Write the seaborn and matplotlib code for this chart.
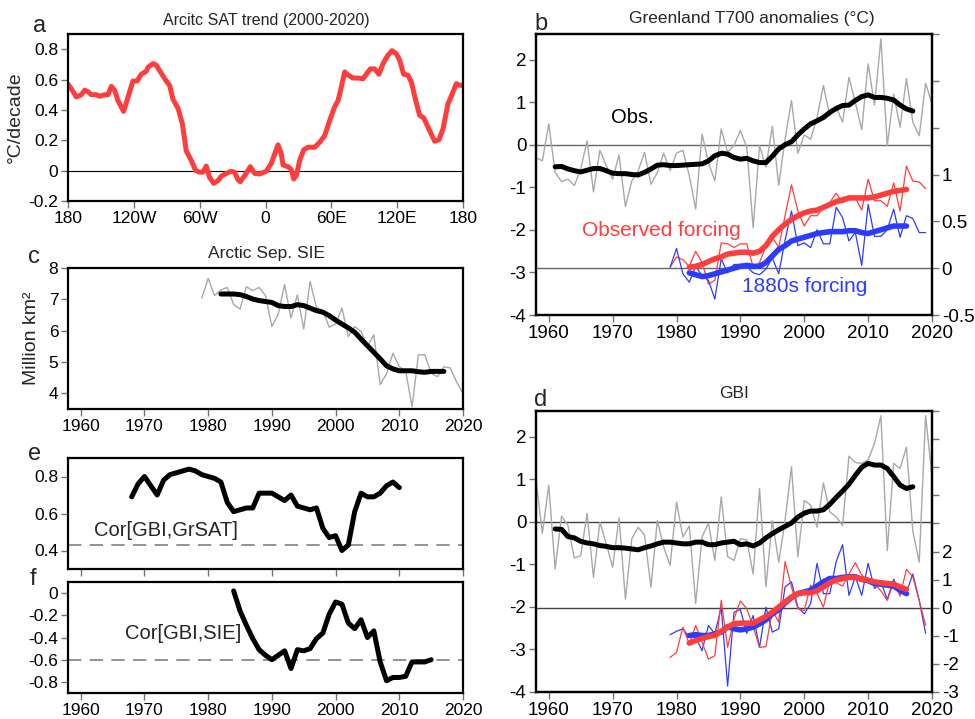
import matplotlib
matplotlib.use("Agg")
import matplotlib.pyplot as plt
import seaborn as sns

sns.set_style("ticks")
plt.rcParams['font.family'] = ['Liberation Sans', 'DejaVu Sans']

# ---------------- data ----------------
# panel a
lon_a = [-180, -177, -172.4, -167.8, -164.8, -161.8, -158.7, -154.2, -151.1, -146.6, -143.5, -140.5, -137.5,
         -134.4, -129.3, -125.3, -120.8, -117.1, -113.2, -108.6, -107.1, -102.5, -99.5, -94.9, -90.4, -87.3,
         -84.3, -79.7, -75.8, -72.2, -67.6, -63.6, -60, -57, -54, -51, -47.2, -43.3, -40.3, -35.7, -31.2,
         -28.1, -25.1, -23, -19, -13.8, -9.9, -5.3, 0.8, 5.3, 11.4, 14.4, 16, 20.5, 23.5, 25.7, 28.1, 31.1,
         34.8, 38.7, 44.8, 49.4, 53.9, 58.5, 63, 66.1, 69.1, 72.2, 75.2, 79.7, 84.3, 88.9, 91.9, 95.5, 99.5,
         103.4, 107.1, 111.6, 115.3, 119.2, 122.3, 125.9, 129.9, 132.9, 136.9, 140.5, 144.2, 148.1, 151.7,
         154.2, 158.1, 161.8, 166.3, 170.3, 173.9, 177, 180]
trend_a = [0.57, 0.54, 0.485, 0.50, 0.53, 0.52, 0.50, 0.50, 0.49, 0.50, 0.50, 0.555, 0.53, 0.46, 0.39, 0.485,
           0.59, 0.59, 0.635, 0.655, 0.68, 0.705, 0.695, 0.64, 0.59, 0.56, 0.47, 0.41, 0.31, 0.13, 0.066, 0.0,
           -0.01, -0.01, 0.03, -0.044, -0.084, -0.066, -0.037, -0.018, -0.004, -0.011, -0.06, -0.073, -0.033,
           0.026, -0.018, -0.022, -0.004, 0.048, 0.17, 0.11, 0.037, 0.026, 0.007, -0.055, -0.033, 0.066, 0.137,
           0.154, 0.154, 0.187, 0.23, 0.33, 0.42, 0.46, 0.55, 0.65, 0.63, 0.61, 0.61, 0.605, 0.635, 0.67, 0.67,
           0.635, 0.705, 0.76, 0.79, 0.77, 0.727, 0.635, 0.628, 0.584, 0.463, 0.364, 0.348, 0.287, 0.231,
           0.194, 0.203, 0.275, 0.44, 0.507, 0.573, 0.562, 0.562]
lon_ticks = [-180, -120, -60, 0, 60, 120, 180]
lon_labels = ["180", "120W", "60W", "0", "60E", "120E", "180"]

years_annual = list(range(1958, 2021))
years_smooth = list(range(1961, 2018))
years_model = list(range(1979, 2020))
years_model_smooth = list(range(1982, 2017))

# panel b
t700_obs = [-0.30, -0.38, 0.49, -0.65, -0.87, -0.81, -0.96, -0.57, 0.09, -1.11,
            -0.13, -0.49, -0.81, -0.24, -1.45, -0.85, -0.61, -0.18, -0.93, -0.65,
            -0.20, -0.61, -0.20, -0.13, -0.73, -1.51, 0.25, -0.42, -0.85, 0.37,
            -0.18, -0.02, 0.33, -0.06, -1.95, -0.02, -0.53, 0.43, -0.95, 0.13,
            1.04, -0.20, 0.23, 0.13, 0.64, 1.39, 0.68, 0.88, 0.53, 1.58,
            0.99, 0.35, 1.90, 0.93, 2.49, -0.02, 1.19, 0.41, 1.55, 0.53,
            0.21, 1.44, 0.96]
t700_obs_smooth = [-0.52, -0.51, -0.57, -0.61, -0.64, -0.60, -0.56, -0.56, -0.61, -0.67,
                   -0.68, -0.68, -0.70, -0.71, -0.65, -0.57, -0.48, -0.47, -0.49, -0.49,
                   -0.48, -0.47, -0.46, -0.45, -0.38, -0.26, -0.20, -0.22, -0.30, -0.34,
                   -0.32, -0.38, -0.42, -0.42, -0.27, -0.10, 0.0, 0.07, 0.23, 0.37,
                   0.49, 0.56, 0.64, 0.76, 0.85, 0.92, 0.93, 1.04, 1.13, 1.17,
                   1.11, 1.11, 1.09, 1.05, 0.93, 0.84, 0.79]
t700_obsforc = [0.01, 0.12, 0.09, 0.02, 0.18, 0.06, -0.17, -0.13, 0.27, 0.26,
                0.22, 0.26, 0.26, 0.01, 0.06, 0.24, 0.33, 0.22, 0.56, 0.89,
                0.61, 0.45, 0.56, 0.56, 0.65, 0.70, 0.80, 0.70, 0.73, 0.75,
                0.62, 0.95, 0.72, 0.72, 0.66, 0.91, 0.61, 1.09, 0.93, 0.92, 0.85]
t700_1880 = [0.01, 0.21, -0.06, -0.15, 0.02, -0.08, -0.13, -0.33, 0.10, -0.05,
             0.04, 0.04, 0.02, -0.05, -0.07, -0.01, 0.11, -0.06, 0.30, 0.61,
             0.24, 0.27, 0.22, 0.41, 0.26, 0.26, 0.65, 0.54, 0.29, 0.38,
             0.03, 0.68, 0.34, 0.34, 0.41, 0.63, 0.33, 0.56, 0.53, 0.38, 0.38]
t700_obsforc_smooth = [0.01, 0.02, 0.04, 0.07, 0.10, 0.12, 0.15, 0.16, 0.17, 0.17,
                       0.16, 0.18, 0.24, 0.34, 0.41, 0.47, 0.52, 0.56, 0.59, 0.61,
                       0.62, 0.65, 0.68, 0.71, 0.73, 0.75, 0.75, 0.75, 0.75, 0.76,
                       0.78, 0.80, 0.82, 0.83, 0.84]
t700_1880_smooth = [-0.05, -0.07, -0.09, -0.08, -0.06, -0.04, -0.02, 0.0, 0.02, 0.03,
                    0.02, 0.02, 0.06, 0.13, 0.20, 0.24, 0.29, 0.31, 0.33, 0.35,
                    0.37, 0.38, 0.39, 0.39, 0.39, 0.40, 0.40, 0.38, 0.37, 0.39,
                    0.41, 0.43, 0.45, 0.45, 0.45]

# panel c
years_sie = list(range(1979, 2021))
sie = [7.04, 7.67, 7.12, 7.30, 7.38, 6.83, 6.69, 7.40, 7.28, 7.38,
       7.12, 6.13, 6.53, 7.47, 6.40, 7.14, 6.05, 7.57, 6.74, 6.64,
       6.11, 6.21, 6.72, 5.81, 6.13, 5.98, 5.49, 5.87, 4.28, 4.62,
       5.28, 4.85, 4.72, 3.57, 5.23, 5.23, 4.64, 4.53, 4.85, 4.81,
       4.36, 4.00]
years_sie_smooth = list(range(1982, 2018))
sie_smooth = [7.17, 7.17, 7.17, 7.15, 7.09, 7.01, 6.96, 6.93, 6.90, 6.80,
              6.77, 6.77, 6.83, 6.80, 6.72, 6.64, 6.59, 6.48, 6.34, 6.21,
              6.09, 5.95, 5.73, 5.52, 5.31, 5.10, 4.88, 4.78, 4.72, 4.72,
              4.72, 4.69, 4.67, 4.70, 4.70, 4.70]

# panel d
gbi_obs = [0.98, -0.27, 0.86, -1.11, 0.13, -0.09, -0.85, -0.80, 0.20, -1.31,
           -0.01, -0.52, -1.07, 0.09, -1.82, -0.40, -0.13, -0.32, -1.54, 0.03,
           -0.60, -1.03, 0.46, -0.36, -0.10, -1.92, -0.36, -0.03, -0.91, 0.58,
           -0.82, -0.91, -0.40, -0.43, -1.23, 0.78, -1.53, 0.03, -0.95, 0.03,
           1.29, -0.82, 0.50, 0.39, -0.13, 0.91, 0.23, 0.11, -0.09, 1.54,
           1.39, 1.37, 1.45, 1.84, 2.49, -0.68, 1.37, 1.25, 1.75, -0.22,
           -0.95, 2.49, 1.06]
gbi_obs_smooth = [-0.17, -0.18, -0.35, -0.38, -0.46, -0.50, -0.52, -0.56, -0.58, -0.61,
                  -0.61, -0.62, -0.64, -0.66, -0.61, -0.57, -0.52, -0.48, -0.48, -0.50,
                  -0.52, -0.52, -0.48, -0.48, -0.54, -0.54, -0.50, -0.48, -0.46, -0.54,
                  -0.52, -0.57, -0.50, -0.38, -0.28, -0.19, -0.11, -0.03, 0.11, 0.20,
                  0.25, 0.25, 0.28, 0.41, 0.57, 0.72, 0.88, 1.09, 1.28, 1.37,
                  1.33, 1.33, 1.25, 1.06, 0.86, 0.78, 0.82]
gbi_obsforc = [-1.77, -1.59, -0.69, -1.29, -0.63, -1.23, -1.83, -1.71, 0.26, -1.41,
               -0.40, 0.24, -0.04, -0.67, -1.41, -1.39, -0.10, -0.51, 1.64, 0.74,
               -0.04, -0.10, 0.80, 0.50, 0.02, 0.98, 0.89, 0.77, 1.20, 1.60,
               1.16, 0.98, 0.84, 0.60, 0.26, 0.92, 0.41, 1.37, 1.10, 0.26, -0.63]
gbi_1880 = [-0.96, -0.84, -0.75, -1.05, -1.05, -1.53, -0.63, -0.93, 0.02, -2.79,
            -0.16, -0.07, -0.91, -0.28, -1.41, 0.02, -0.87, -0.75, 0.74, 0.92,
            0.02, -0.22, 0.14, 1.58, 0.50, 0.50, 1.64, 2.24, 0.44, 1.10,
            0.44, 1.58, 0.68, 0.92, 0.29, 1.01, 0.50, 0.56, 1.20, 0.26, -0.91]
gbi_1880_smooth = [-0.99, -0.96, -0.99, -0.99, -0.93, -0.87, -0.67, -0.75, -0.79, -0.75,
                   -0.69, -0.57, -0.43, -0.22, -0.07, 0.17, 0.36, 0.50, 0.56, 0.62,
                   0.77, 0.92, 1.04, 1.04, 1.08, 1.10, 1.10, 1.01, 0.96, 0.86,
                   0.84, 0.80, 0.77, 0.62, 0.50]
gbi_obsforc_smooth = [-1.26, -1.17, -1.09, -1.03, -0.99, -0.84, -0.69, -0.57, -0.55, -0.55,
                      -0.55, -0.43, -0.31, -0.16, 0.02, 0.20, 0.38, 0.50, 0.53, 0.53,
                      0.60, 0.74, 0.89, 0.98, 1.04, 1.08, 1.08, 1.01, 0.98, 0.92,
                      0.89, 0.86, 0.84, 0.74, 0.65]

# panel e, f
years_e = list(range(1968, 2011))
cor_gbi_grsat = [0.69, 0.76, 0.80, 0.75, 0.70, 0.78, 0.81, 0.82, 0.83, 0.84,
                 0.83, 0.81, 0.80, 0.79, 0.77, 0.66, 0.61, 0.62, 0.63, 0.63,
                 0.71, 0.71, 0.71, 0.69, 0.67, 0.70, 0.64, 0.63, 0.62, 0.63,
                 0.52, 0.47, 0.48, 0.40, 0.43, 0.61, 0.71, 0.69, 0.69, 0.71,
                 0.75, 0.77, 0.74]
sig_e = 0.43
years_f = list(range(1984, 2016))
cor_gbi_sie = [0.02, -0.16, -0.29, -0.41, -0.51, -0.56, -0.60, -0.56, -0.52, -0.68,
               -0.51, -0.52, -0.50, -0.41, -0.36, -0.19, -0.08, -0.10, -0.27, -0.32,
               -0.24, -0.40, -0.34, -0.62, -0.79, -0.76, -0.76, -0.75, -0.62, -0.62,
               -0.62, -0.60]
sig_f = -0.6

year_ticks = [1960, 1970, 1980, 1990, 2000, 2010, 2020]

# ---------------- styling ----------------
RED = "#ff3d3d"
BLUE = "#2b3bff"
GRAY = "#a8a8a8"
W, H = 975, 719
fig = plt.figure(figsize=(W / 100, H / 100), dpi=100)


def box(l, r, t, b):
    return [l / W, 1 - b / H, (r - l) / W, (b - t) / H]


def fmt(v):
    s = f"{v:g}"
    return "0" if s in ("-0", "0.0") else s


def style(ax, lw=1.6, tickcolor="0.45", labelsize=12.5):
    for s in ax.spines.values():
        s.set_visible(True)
        s.set_linewidth(lw)
        s.set_color("black")
    ax.tick_params(direction="out", length=5, width=1, color=tickcolor,
                   labelsize=labelsize, labelcolor="black", pad=2)


def thick(ax, x, y, color, lw):
    sns.lineplot(x=x, y=y, ax=ax, color=color, linewidth=lw, legend=False,
                 solid_capstyle="round", solid_joinstyle="round")


LETTER = 17

# ---- panel a ----
ax_a = fig.add_axes(box(68, 463, 34, 201))
thick(ax_a, lon_a, trend_a, RED, 3.6)
ax_a.axhline(0, color="black", lw=0.8, zorder=0)
ax_a.set_xlim(-180, 180)
ax_a.set_ylim(-0.2, 0.9)
ax_a.set_xticks(lon_ticks)
ax_a.set_xticklabels(lon_labels)
yt = [-0.2, 0, 0.2, 0.4, 0.6, 0.8]
ax_a.set_yticks(yt)
ax_a.set_yticklabels([fmt(v) for v in yt])
ax_a.set_ylabel("°C/decade", fontsize=14, labelpad=3)
style(ax_a)
fig.text(266 / W, 1 - 20 / H, "Arcitc SAT trend (2000-2020)", ha="center", va="center", fontsize=11.5)
fig.text(40 / W, 1 - 26 / H, "a", ha="center", va="center", fontsize=LETTER)

# ---- panel b ----
ax_b = fig.add_axes(box(536, 932, 34, 315))
sns.lineplot(x=years_annual, y=t700_obs, ax=ax_b, color=GRAY, linewidth=1.0, legend=False)
thick(ax_b, years_smooth, t700_obs_smooth, "black", 3.6)
ax_b.axhline(0, color="0.4", lw=1.0, zorder=0)
ax_b.set_xlim(1958, 2020)
ax_b.set_ylim(-4, 2.6)
ax_b.set_xticks(year_ticks)
ax_b.set_yticks([-4, -3, -2, -1, 0, 1, 2])
ax_b.set_yticklabels([fmt(v) for v in [-4, -3, -2, -1, 0, 1, 2]])
style(ax_b, labelsize=13.5)
ax_b.text(1969.8, 0.64, "Obs.", fontsize=14.5, color="black", va="center", ha="left")
ax_b.text(1965.2, -2.02, "Observed forcing", fontsize=15, color=RED, va="center", ha="left")
ax_b.text(1990.2, -3.32, "1880s forcing", fontsize=15, color=BLUE, va="center", ha="left")

ax_b2 = ax_b.twinx()
sns.lineplot(x=years_model, y=t700_obsforc, ax=ax_b2, color=RED, linewidth=0.9, legend=False)
sns.lineplot(x=years_model, y=t700_1880, ax=ax_b2, color=BLUE, linewidth=0.9, legend=False)
thick(ax_b2, years_model_smooth, t700_obsforc_smooth, RED, 4.0)
thick(ax_b2, years_model_smooth, t700_1880_smooth, BLUE, 4.0)
ax_b2.axhline(0, color="0.4", lw=1.0, zorder=0)
ax_b2.set_ylim(-0.5, 2.5)
rt = [-0.5, 0, 0.5, 1, 1.5, 2, 2.5]
ax_b2.set_yticks(rt)
ax_b2.set_yticklabels([fmt(v) if v <= 1 else "" for v in rt])
ax_b2.set_ylabel("")
style(ax_b2, labelsize=13.5)
ax_b.set_ylabel("")
fig.text(752 / W, 1 - 19 / H, "Greenland T700 anomalies (°C)", ha="center", va="center", fontsize=12.5)
fig.text(541 / W, 1 - 24 / H, "b", ha="center", va="center", fontsize=LETTER)

# ---- panel c ----
ax_c = fig.add_axes(box(68, 463, 268, 409))
sns.lineplot(x=years_sie, y=sie, ax=ax_c, color=GRAY, linewidth=1.0, legend=False)
thick(ax_c, years_sie_smooth, sie_smooth, "black", 3.6)
ax_c.set_xlim(1958, 2020)
ax_c.set_ylim(3.5, 8)
ax_c.set_xticks(year_ticks)
ax_c.set_yticks([4, 5, 6, 7, 8])
ax_c.set_ylabel("Million km²", fontsize=14, labelpad=6)
style(ax_c)
fig.text(266 / W, 1 - 254 / H, "Arctic Sep. SIE", ha="center", va="center", fontsize=12.5)
fig.text(34 / W, 1 - 257 / H, "c", ha="center", va="center", fontsize=LETTER)

# ---- panel d ----
ax_d = fig.add_axes(box(536, 932, 411, 692))
sns.lineplot(x=years_annual, y=gbi_obs, ax=ax_d, color=GRAY, linewidth=1.0, legend=False)
thick(ax_d, years_smooth, gbi_obs_smooth, "black", 3.6)
ax_d.axhline(0, color="0.25", lw=1.0, zorder=0)
ax_d.set_xlim(1958, 2020)
ax_d.set_ylim(-4, 2.6)
ax_d.set_xticks(year_ticks)
ax_d.set_yticks([-4, -3, -2, -1, 0, 1, 2])
ax_d.set_yticklabels([fmt(v) for v in [-4, -3, -2, -1, 0, 1, 2]])
ax_d.set_ylabel("")
style(ax_d, labelsize=13.5)

ax_d2 = ax_d.twinx()
sns.lineplot(x=years_model, y=gbi_1880, ax=ax_d2, color=BLUE, linewidth=0.9, legend=False)
sns.lineplot(x=years_model, y=gbi_obsforc, ax=ax_d2, color=RED, linewidth=0.9, legend=False)
thick(ax_d2, years_model_smooth, gbi_1880_smooth, BLUE, 4.0)
thick(ax_d2, years_model_smooth, gbi_obsforc_smooth, RED, 4.0)
ax_d2.axhline(0, color="0.25", lw=1.0, zorder=0)
ax_d2.set_ylim(-3, 7)
rt = list(range(-3, 8))
ax_d2.set_yticks(rt)
ax_d2.set_yticklabels([str(v) if v <= 2 else "" for v in rt])
ax_d2.set_ylabel("")
style(ax_d2, labelsize=13.5)
fig.text(734 / W, 1 - 394 / H, "GBI", ha="center", va="center", fontsize=12.5)
fig.text(541 / W, 1 - 400 / H, "d", ha="center", va="center", fontsize=LETTER)

# ---- panel e ----
ax_e = fig.add_axes(box(68, 463, 458, 569))
thick(ax_e, years_e, cor_gbi_grsat, "black", 3.6)
ax_e.axhline(sig_e, color="0.5", lw=1.2, ls=(0, (8, 5)), zorder=0)
ax_e.set_xlim(1958, 2020)
ax_e.set_ylim(0.3, 0.9)
ax_e.set_xticks(year_ticks)
ax_e.set_xticklabels([])
ax_e.set_yticks([0.4, 0.6, 0.8])
ax_e.set_yticklabels([fmt(v) for v in [0.4, 0.6, 0.8]])
ax_e.text(1962.1, 0.507, "Cor[GBI,GrSAT]", fontsize=14.5, va="center", ha="left")
style(ax_e)
fig.text(35 / W, 1 - 454 / H, "e", ha="center", va="center", fontsize=LETTER)

# ---- panel f ----
ax_f = fig.add_axes(box(68, 463, 582, 693))
thick(ax_f, years_f, cor_gbi_sie, "black", 3.6)
ax_f.axhline(sig_f, color="0.5", lw=1.2, ls=(0, (8, 5)), zorder=0)
ax_f.set_xlim(1958, 2020)
ax_f.set_ylim(-0.9, 0.1)
ax_f.set_xticks(year_ticks)
ft = [-0.8, -0.6, -0.4, -0.2, 0]
ax_f.set_yticks(ft)
ax_f.set_yticklabels([fmt(v) for v in ft])
ax_f.text(1966.9, -0.365, "Cor[GBI,SIE]", fontsize=14.5, va="center", ha="left")
style(ax_f)
fig.text(33 / W, 1 - 579 / H, "f", ha="center", va="center", fontsize=LETTER)

fig.savefig("out.png", dpi=100)
